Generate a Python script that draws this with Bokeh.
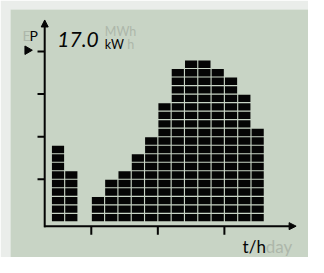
import math
from bokeh.plotting import figure
from bokeh.models import Label, Arrow, NormalHead
from bokeh.embed import file_html
from bokeh.resources import INLINE

# ---- data ----
hours = list(range(16))                       # column index (time slots)
levels = [9, 6, 0, 3, 5, 6, 8, 10, 14, 18, 19, 19, 18, 17, 15, 11]  # bar heights (blocks)
y_ticks = [5, 10, 15, 20]
x_ticks = [3, 8, 13]
value_text = "17.0"

# ---- styling ----
LCD = "#C8D4C5"
OUTER = "#EAEDEA"
INK = "#050505"
DIM = "#ADB7AA"
FONT = "Lato"

bw = 1 - 0.085    # block width (data units)
bh = 1 - 0.13     # block height (data units)

# expand bars into blocks
bl, br, bb, bt = [], [], [], []
for h, n in zip(hours, levels):
    for j in range(n):
        bl.append(h + 0.5 - bw / 2)
        br.append(h + 0.5 + bw / 2)
        bb.append(j + 0.5 - bh / 2)
        bt.append(j + 0.5 + bh / 2)

p = figure(width=308, height=257, output_backend="svg", toolbar_location=None,
           x_range=(-3.07, 19.32), y_range=(-4.18, 24.93),
           x_axis_location=None, y_axis_location=None,
           min_border_left=10, min_border_top=9, min_border_right=0, min_border_bottom=0)
p.outline_line_color = None
p.grid.visible = False
p.background_fill_color = LCD
p.border_fill_color = OUTER

p.quad(left=bl, right=br, bottom=bb, top=bt, fill_color=INK, line_color=None)

# axes with arrow heads
ax0 = -0.5
p.add_layout(Arrow(end=NormalHead(size=7, fill_color=INK, line_color=INK, line_width=1),
                   x_start=ax0, y_start=-0.62, x_end=ax0, y_end=23.7,
                   line_color=INK, line_width=2))
p.add_layout(Arrow(end=NormalHead(size=7, fill_color=INK, line_color=INK, line_width=1),
                   x_start=ax0 - 0.05, y_start=ax0, x_end=18.39, y_end=ax0,
                   line_color=INK, line_width=2))

# ticks
p.segment(x0=[-1.04] * len(y_ticks), x1=[ax0] * len(y_ticks), y0=y_ticks, y1=y_ticks,
          line_color=INK, line_width=2)
p.segment(x0=x_ticks, x1=x_ticks, y0=[ax0] * len(x_ticks), y1=[-1.5] * len(x_ticks),
          line_color=INK, line_width=2)

# level marker
p.scatter(x=[-1.8], y=[y_ticks[-1] + 0.15], marker="triangle", size=8.5, angle=-math.pi / 2,
          fill_color=INK, line_color=INK)

def lab(x, y, t, size, color, style="normal"):
    p.add_layout(Label(x=x, y=y, text=t, text_font=FONT, text_font_size=size,
                       text_color=color, text_font_style=style,
                       text_align="left", text_baseline="alphabetic"))

lab(-2.17, 21.9, "E", "14px", DIM)
lab(-1.64, 21.9, "P", "14px", INK)
lab(0.45, 21.46, value_text, "21px", INK, "italic")
lab(4.02, 22.31, "MWh", "12.5px", DIM)
lab(4.02, 20.8, "kW", "12.5px", INK)
lab(5.7, 20.8, "h", "12.5px", DIM)
lab(14.37, -2.85, "t/h", "17px", INK)
lab(16.1, -2.85, "day", "17px", DIM)

open("out.html", "w").write(file_html(p, INLINE))
